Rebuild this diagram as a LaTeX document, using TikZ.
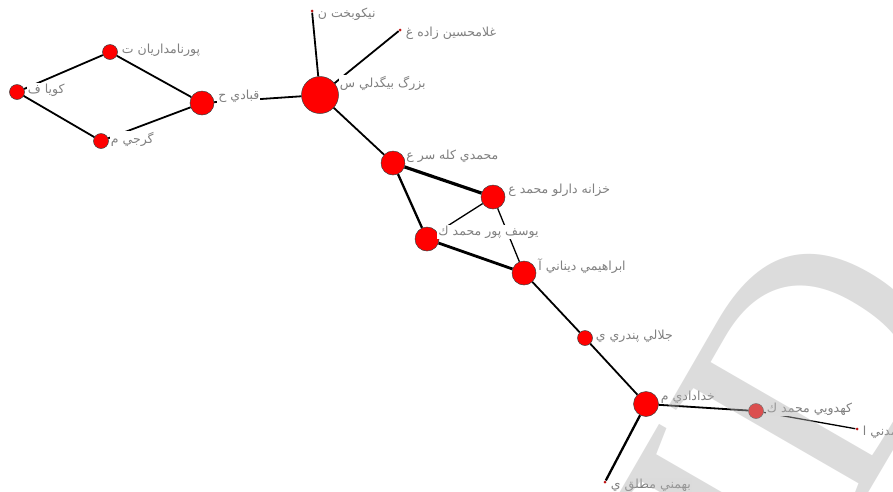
\documentclass[tikz,border=0pt]{standalone}
\usepackage{fontspec}
\newfontfamily\arabicfont[Script=Arabic]{DejaVu Sans}
\newfontfamily\wmfont{Liberation Serif}
\TeXXeTstate=1
\usetikzlibrary{positioning}
\definecolor{nodered}{RGB}{255,0,0}
\definecolor{dotred}{RGB}{190,20,20}
\definecolor{labelgray}{RGB}{128,128,128}
\definecolor{wmgray}{RGB}{177,177,177}

\begin{document}
\begin{tikzpicture}[x=1pt, y=-1pt,
    author/.style={circle, draw=black!75, line width=0.5pt, fill=nodered, inner sep=0pt},
    large/.style={author, minimum size=37pt},
    medium/.style={author, minimum size=24pt},
    small/.style={author, minimum size=15pt},
    tiny/.style={circle, fill=dotred, inner sep=0pt, minimum size=3pt},
    lbl/.style={font=\arabicfont\fontsize{12.5}{14}\selectfont, text=labelgray, fill=white, inner sep=1pt},
    lbl-l/.style={lbl, yshift=12pt},
    lbl-m/.style={lbl, yshift=7pt},
    lbl-s/.style={lbl, yshift=2pt},
    lbl-t/.style={lbl, yshift=-3.5pt},
    link/.style={line width=1.8pt},
    heavy/.style={line width=3.2pt},
    light/.style={line width=1.3pt},
    wm/.style={font=\wmfont\fontsize{330}{330}\selectfont, text=wmgray, text opacity=0.45, rotate=60, inner sep=0pt},
]
\path[use as bounding box, clip] (0,0) rectangle (893,491);

% Authors
\node[small] (koya) at (17,92) {};
\node[small] (pourn) at (110,52) {};
\node[small] (gorji) at (101,141) {};
\node[medium] (ghobadi) at (202,103) {};
\node[large] (bozorg) at (320,95) {};
\node[tiny] (nikoo) at (312,11) {};
\node[tiny] (gholam) at (400,30) {};
\node[medium] (mohammadi) at (393,163) {};
\node[medium] (khazane) at (493,197) {};
\node[medium] (yousef) at (427,239) {};
\node[medium] (ebrahimi) at (524,273) {};
\node[small] (jalali) at (585,338) {};
\node[medium, minimum size=25pt] (khodadadi) at (646,404) {};
\node[small] (kahdouei) at (756,411) {};
\node[tiny] (madani) at (857,429) {};
\node[tiny] (bahmani) at (605,482) {};

% Co-authorship links
\draw[link] (koya) -- (pourn);
\draw[link] (koya) -- (gorji);
\draw[link] (pourn) -- (ghobadi);
\draw[link] (gorji) -- (ghobadi);
\draw[link] (ghobadi) -- (bozorg);
\draw[link] (bozorg) -- (nikoo);
\draw[link] (bozorg) -- (gholam);
\draw[link] (bozorg) -- (mohammadi);
\draw[heavy] (mohammadi) -- (khazane);
\draw[link, line width=2.3pt] (mohammadi) -- (yousef);
\draw[light] (khazane) -- (yousef);
\draw[light] (khazane) -- (ebrahimi);
\draw[heavy, line width=2.8pt] (yousef) -- (ebrahimi);
\draw[link] (ebrahimi) -- (jalali);
\draw[link] (jalali) -- (khodadadi);
\draw[link] (khodadadi) -- (kahdouei);
\draw[link, line width=2.3pt] (khodadadi) -- (bahmani);
\draw[light] (kahdouei) -- (madani);

% Names
\node[lbl-s, right=2pt of koya.east] (koya-l) {\beginR كويا ف\endR};
\node[lbl-s, right=3pt of pourn.east] (pourn-l) {\beginR پورنامداريان ت\endR};
\node[lbl-s, right=1pt of gorji.east] (gorji-l) {\beginR گرجي م\endR};
\node[lbl-m, right=3pt of ghobadi.east] (ghobadi-l) {\beginR قبادي ح\endR};
\node[lbl-l, right=0pt of bozorg.east] (bozorg-l) {\beginR بزرگ بيگدلي س\endR};
\node[lbl-t, right=3pt of nikoo.east] (nikoo-l) {\beginR نيكوبخت ن\endR};
\node[lbl-t, right=3pt of gholam.east] (gholam-l) {\beginR غلامحسين زاده غ\endR};
\node[lbl-m, right=0pt of mohammadi.east] (mohammadi-l) {\beginR محمدي كله سر ع\endR};
\node[lbl-m, right=2pt of khazane.east] (khazane-l) {\beginR خزانه دارلو محمد ع\endR};
\node[lbl-m, right=-2pt of yousef.east] (yousef-l) {\beginR يوسف پور محمد ك\endR};
\node[lbl-m, right=1pt of ebrahimi.east] (ebrahimi-l) {\beginR ابراهيمي ديناني آ\endR};
\node[lbl-s, right=2pt of jalali.east] (jalali-l) {\beginR جلالي پندري ي\endR};
\node[lbl-m, right=1pt of khodadadi.east] (khodadadi-l) {\beginR خدادادي م\endR};
\node[lbl-s, right=2pt of kahdouei.east] (kahdouei-l) {\beginR كهدويي محمد ك\endR};
\node[lbl-t, right=3pt of madani.east] (madani-l) {\beginR مدني ا\endR};
\node[lbl-t, right=3pt of bahmani.east] (bahmani-l) {\beginR بهمني مطلق ي\endR};

% Watermark
\node[wm] (sid) at (745,492) {SID};
\end{tikzpicture}
\end{document}
